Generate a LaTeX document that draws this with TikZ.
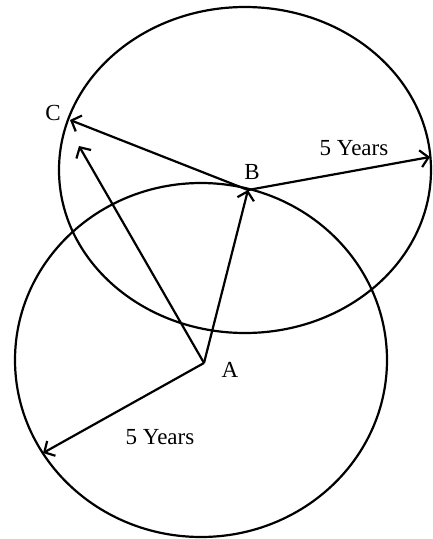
\documentclass[tikz,border=0pt]{standalone}
\usepackage{fontspec}
\setmainfont{Liberation Serif}
\usetikzlibrary{arrows.meta}

\tikzset{
  orbit/.style={line width=2.2pt},
  vec/.style={line width=2.2pt,-{Straight Barb[length=8pt,width=17pt,line width=2.2pt]}},
  lbl/.style={font=\fontsize{23}{27}\selectfont,inner sep=0pt}
}

\begin{document}
\begin{tikzpicture}[x=1pt,y=-1pt]
	\useasboundingbox (0,0) rectangle (432,539);
	
	% points
	\coordinate (A) at (204,363);
	\coordinate (B) at (248,190);
	\coordinate (C) at (70,120);
	\coordinate (Ctip) at (79,146);
	\coordinate (Btip) at (430,157);
	\coordinate (Atip) at (43,453);
	
	% the two circles
	\draw[orbit] (201,360) ellipse [x radius=186pt, y radius=177pt];
	\draw[orbit] (245,170) ellipse [x radius=186pt, y radius=163pt];
	
	% vectors
	\draw[vec] (A) -- (B);
	\draw[vec] (A) -- (Ctip);
	\draw[vec] (A) -- (Atip);
	\draw[vec] (B) -- (C);
	\draw[vec] (B) -- (Btip);
	
	% labels
	\node[lbl] (labC) at (53,113) {C};
	\node[lbl] (labB) at (252,172) {B};
	\node[lbl] (labA) at (230,370) {A};
	\node[lbl] (yrsB) at (354,148) {5 Years};
	\node[lbl] (yrsA) at (160,437) {5 Years};
\end{tikzpicture}
\end{document}
